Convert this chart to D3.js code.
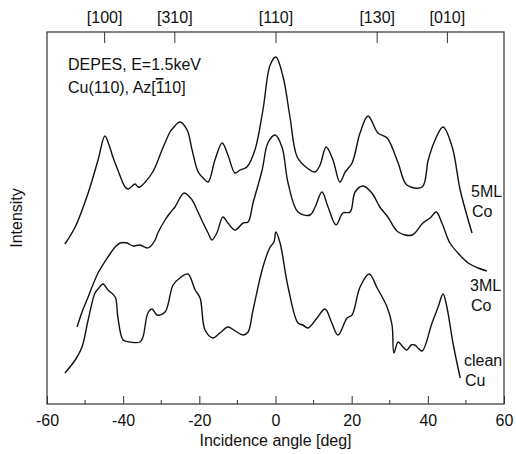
<html>
<head>
<meta charset="utf-8">
<style>
  body { margin: 0; background: white; }
  text { font-family: Arial, "Liberation Sans", sans-serif; font-size: 16px; fill: #111; }
</style>
</head>
<body>
<svg id="chart" width="516" height="454"></svg>

<script src="https://d3js.org/d3.v7.min.js"></script>
<script>

//// data (angle in deg, intensity in arb. units)
var angle_5ML = [-55.3, -52.6, -49.2, -46.6, -44.8, -43.7, -42.7, -41.4, -39.5, -38.7, -37.9, -36.9, -36.1, -35.6,
  -32.4, -29.8, -27.7, -26.9, -25.1, -23.2, -21.9, -20.3, -19.0, -17.7, -15.9, -14.0, -12.5, -10.6, -9.3, -7.5,
  -5.4, -3.3, -1.4, 0.1, 2.0, 3.8, 5.7, 8.3, 10.4, 11.7, 13.3, 15.1, 16.9, 18.3, 20.1, 22.2, 24.3, 26.9, 29.3,
  32.2, 34.5, 38.5, 40.1, 41.9, 44.0, 46.4, 48.5, 51.6]
var int_5ML = [160, 177, 211, 244, 268, 259, 247, 234, 217, 215, 217, 220, 217, 217,
  231, 254, 272, 276, 282, 274, 254, 232, 226, 222, 244, 261, 249, 231, 234, 237,
  254, 294, 339, 347, 327, 287, 247, 236, 232, 239, 257, 244, 222, 232, 241, 271, 288, 271, 266,
  241, 219, 217, 244, 264, 277, 257, 214, 171]

var angle_3ML = [-52.1, -50.8, -49.2, -46.6, -44.0, -42.1, -40.8, -39.0, -37.4, -35.6, -33.7, -33.0, -31.6, -30.9,
  -29.0, -27.7, -26.4, -24.0, -21.9, -20.6, -19.0, -17.7, -16.7, -15.4, -13.8, -12.5, -10.6, -8.5, -7.2, -5.9,
  -3.5, -2.0, -0.1, 1.7, 3.3, 5.9, 9.1, 10.4, 12.2, 13.8, 15.9, 17.7, 19.6, 20.9, 23.0, 25.3, 27.4, 29.5,
  32.2, 35.9, 38.7, 40.6, 42.2, 43.7, 45.8, 47.9, 50.6, 53.2, 55.5]
var int_3ML = [77, 92, 107, 131, 147, 157, 161, 161, 158, 159, 156, 157, 164, 171,
  184, 191, 197, 211, 204, 194, 181, 171, 164, 171, 187, 181, 174, 181, 182, 201,
  234, 261, 269, 257, 221, 192, 189, 197, 212, 197, 179, 191, 192, 212, 218, 211, 197, 187,
  172, 169, 181, 186, 192, 181, 161, 151, 141, 136, 133]

var angle_Cu = [-55.3, -52.6, -50.8, -49.2, -47.4, -46.6, -45.3, -44.0, -42.1, -41.4, -40.0, -38.2, -35.6, -34.8,
  -33.5, -32.4, -31.1, -29.0, -26.9, -25.1, -23.0, -21.1, -19.8, -18.5, -16.4, -14.6, -12.5, -10.6, -8.5, -7.2,
  -5.9, -3.3, -1.4, -0.4, 0.1, 1.2, 3.3, 5.9, 7.2, 8.5, 10.9, 13.0, 14.8, 16.4, 18.8, 20.1, 22.2, 24.6, 26.7,
  29.3, 30.6, 31.1, 32.2, 33.5, 34.5, 35.6, 36.6, 37.4, 38.5, 41.1, 42.7, 44.0, 45.0, 46.6, 48.5]
var int_Cu = [31, 44, 57, 84, 111, 115, 120, 114, 107, 87, 64, 62, 62, 67,
  91, 95, 89, 92, 119, 126, 130, 114, 106, 74, 66, 71, 77, 73, 69, 72,
  94, 137, 157, 162, 172, 161, 117, 81, 79, 76, 86, 95, 81, 69, 86, 89, 117, 130, 116,
  97, 79, 51, 62, 57, 54, 59, 59, 56, 53, 81, 97, 110, 97, 61, 26]

// crystal directions marked on the top axis
var dir_angles = [-45, -26.57, 0, 26.57, 45]
var dir_labels = ['[100]', '[310]', '[110]', '[130]', '[010]']

var xticks = [-60, -40, -20, 0, 20, 40, 60]
var xminor = [-50, -30, -10, 10, 30, 50]

var curve_names = [['5ML', 'Co'], ['3ML', 'Co'], ['clean', 'Cu']]


var svg = d3.select('#chart')

// plot box (note: 'top' is a reserved window prop, so use m_ names)
var m_left = 47, m_right = 504, m_top = 32, m_bottom = 404

var scaleX = d3.scaleLinear()
  .domain([-60, 60])
  .range([m_left, m_right])

var scaleY = d3.scaleLinear()
  .domain([0, 372])
  .range([m_bottom, m_top])

function zip(a, b) { return a.map(function(d, i) { return {x: d, y: b[i]} }) }

var series = [zip(angle_5ML, int_5ML), zip(angle_3ML, int_3ML), zip(angle_Cu, int_Cu)]

var lineFunc = d3.line()
  .curve(d3.curveCatmullRom.alpha(0.5))
  .x(function(d) { return scaleX(d.x) })
  .y(function(d) { return scaleY(d.y) })

svg.selectAll('.scan')
  .data(series)
  .enter()
  .append('path')
    .attr('class', 'scan')
    .attr('d', lineFunc)
    .attr('fill', 'none')
    .attr('stroke', '#111')
    .attr('stroke-width', 1.4)
    .attr('stroke-linejoin', 'round')

// frame
svg.append('rect')
  .attr('x', m_left).attr('y', m_top)
  .attr('width', m_right - m_left).attr('height', m_bottom - m_top)
  .attr('fill', 'none')
  .attr('stroke', '#333')
  .attr('stroke-width', 1.2)

// bottom axis, ticks inward
var xAxis = svg.append('g')
  .attr('transform', 'translate(0,' + m_bottom + ')')
  .call(d3.axisBottom(scaleX).tickValues(xticks).tickSize(-8).tickPadding(11)
    .tickFormat(function(d) { return String(d) }))
xAxis.select('.domain').remove()
xAxis.selectAll('line').attr('stroke', '#333')
xAxis.selectAll('text').style('font-size', '16px').style('font-family', 'Arial, "Liberation Sans", sans-serif').attr('fill', '#111')

svg.append('g')
  .selectAll('line')
  .data(xminor)
  .enter()
  .append('line')
    .attr('x1', function(d) { return scaleX(d) })
    .attr('x2', function(d) { return scaleX(d) })
    .attr('y1', m_bottom)
    .attr('y2', m_bottom - 4)
    .attr('stroke', '#333')

// top axis with directions
var topAxis = svg.append('g')
  .attr('transform', 'translate(0,' + m_top + ')')
  .call(d3.axisTop(scaleX).tickValues(dir_angles).tickSize(-11).tickPadding(9)
    .tickFormat(function(d, i) { return dir_labels[i] }))
topAxis.select('.domain').remove()
topAxis.selectAll('line').attr('stroke', '#333')
topAxis.selectAll('text').style('font-size', '16px').style('font-family', 'Arial, "Liberation Sans", sans-serif').attr('fill', '#111')

// axis titles
svg.append('text')
  .attr('x', (m_left + m_right) / 2)
  .attr('y', 446)
  .attr('text-anchor', 'middle')
  .text('Incidence angle [deg]')

svg.append('text')
  .attr('transform', 'translate(22,218) rotate(-90)')
  .attr('text-anchor', 'middle')
  .text('Intensity')

// experiment info
svg.append('text')
  .attr('x', 68).attr('y', 70)
  .text('DEPES, E=1.5keV')

var info2 = svg.append('text')
  .attr('x', 68).attr('y', 93)
info2.append('tspan').text('Cu(110), Az[')
info2.append('tspan').style('text-decoration', 'overline').text('1')
info2.append('tspan').text('10]')

// curve labels
var label_pos = [[471, 197], [470, 291], [464, 366]]

curve_names.forEach(function(names, i) {
  var t = svg.append('text')
    .attr('x', label_pos[i][0])
    .attr('y', label_pos[i][1])
  t.append('tspan').text(names[0])
  t.append('tspan').attr('x', label_pos[i][0] + 1).attr('dy', 20).text(names[1])
})

</script>
</body>
</html>
